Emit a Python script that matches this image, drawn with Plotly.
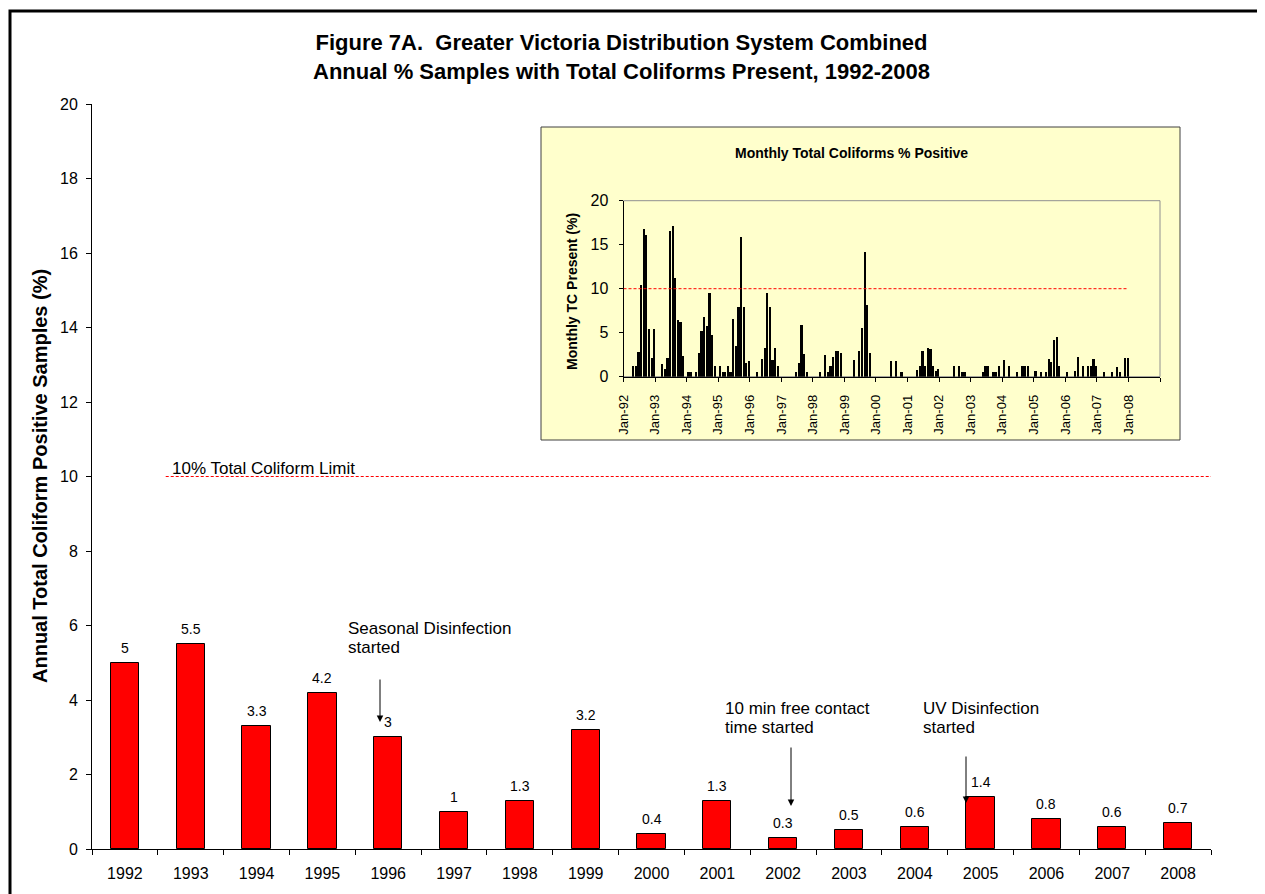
import plotly.graph_objects as go

# ---------------- data ----------------
years = ["1992", "1993", "1994", "1995", "1996", "1997", "1998", "1999", "2000",
         "2001", "2002", "2003", "2004", "2005", "2006", "2007", "2008"]
annual_pct = [5, 5.5, 3.3, 4.2, 3, 1, 1.3, 3.2, 0.4, 1.3, 0.3, 0.5, 0.6, 1.4, 0.8, 0.6, 0.7]
annual_limit = 10

monthly_1992 = [0, 0, 0, 1.3, 1.2, 2.8, 10.5, 16.8, 16.1, 5.5, 2.2, 5.4]
monthly_1993 = [0, 0, 1.5, 0.9, 2.2, 16.6, 17.2, 11.2, 6.5, 6.3, 2.4, 0]
monthly_1994 = [0.6, 0.6, 0, 0.6, 2.7, 5.2, 6.8, 5.8, 9.5, 4.8, 1.2, 0]
monthly_1995 = [1.2, 0.6, 0.6, 1.3, 0.6, 6.6, 3.5, 8.0, 15.9, 8.0, 1.6, 1.8]
monthly_1996 = [0, 0, 0.6, 0, 2.1, 3.3, 9.5, 7.9, 1.9, 3.3, 1.2, 0]
monthly_1997 = [0, 0, 0, 0, 0, 0.6, 1.6, 5.9, 2.6, 0.6, 0, 0]
monthly_1998 = [0, 0, 0.6, 0, 2.5, 0.6, 1.2, 2.3, 2.9, 2.9, 2.7, 0]
monthly_1999 = [0, 0, 0, 1.9, 0, 3.0, 5.6, 14.2, 8.2, 2.7, 0, 0]
monthly_2000 = [0, 0, 0, 0, 0, 1.8, 0, 1.8, 0, 0.6, 0, 0]
monthly_2001 = [0, 0, 0, 0.8, 1.2, 2.9, 1.3, 3.3, 3.2, 1.2, 0.7, 0.9]
monthly_2002 = [0, 0, 0, 0, 0, 1.3, 0, 1.2, 0.6, 0.6, 0, 0]
monthly_2003 = [0, 0, 0, 0, 0.6, 1.2, 1.2, 0, 0.6, 0.6, 1.3, 0]
monthly_2004 = [1.9, 0, 1.2, 0, 0, 0.6, 0, 1.2, 1.2, 1.3, 0, 0]
monthly_2005 = [0.7, 0, 0.6, 0, 0.6, 2.0, 1.7, 4.2, 4.6, 1.2, 0, 0]
monthly_2006 = [0.6, 0, 0, 0.7, 2.3, 0, 1.3, 0, 1.2, 1.2, 2.0, 1.3]
monthly_2007 = [0, 0, 0.6, 0, 0, 0.6, 0, 1.1, 0.6, 0, 2.2, 2.2]
monthly_limit = 10

month_tick_labels = ["Jan-92", "Jan-93", "Jan-94", "Jan-95", "Jan-96", "Jan-97", "Jan-98",
                     "Jan-99", "Jan-00", "Jan-01", "Jan-02", "Jan-03", "Jan-04", "Jan-05",
                     "Jan-06", "Jan-07", "Jan-08"]

monthly_all = (monthly_1992 + monthly_1993 + monthly_1994 + monthly_1995 + monthly_1996 +
               monthly_1997 + monthly_1998 + monthly_1999 + monthly_2000 + monthly_2001 +
               monthly_2002 + monthly_2003 + monthly_2004 + monthly_2005 + monthly_2006 +
               monthly_2007)
month_pos = [i + 0.5 for i in range(len(monthly_all))]

# ---------------- layout geometry (screen pixels; page has an 8px body margin) ----------------
OFF = 8
W, H = 1265, 894
ML, MT = 92 - OFF, 104 - OFF
MR = W - (1211 - OFF)
MB = H - (849 - OFF)
PW = W - ML - MR
PH = H - MT - MB


def px(p):
    return (p - OFF - ML) / PW


def py(p):
    return (H - MB - (p - OFF)) / PH


FONT = "Liberation Sans, Arial, sans-serif"

fig = go.Figure()

fig.add_trace(go.Bar(
    x=years, y=annual_pct, width=0.43,
    marker=dict(color="#FF0000", line=dict(color="black", width=1)),
    xaxis="x", yaxis="y", showlegend=False,
))

fig.add_trace(go.Bar(
    x=month_pos, y=monthly_all, width=0.85,
    marker=dict(color="black", line=dict(width=0)),
    xaxis="x2", yaxis="y2", showlegend=False,
))

shapes = []
# outer frame
shapes.append(dict(type="rect", xref="paper", yref="paper",
                   x0=px(10), x1=px(1259), y0=py(11), y1=py(910),
                   line=dict(color="black", width=3), layer="above"))
# inset box
shapes.append(dict(type="rect", xref="paper", yref="paper",
                   x0=px(541), x1=px(1180), y0=py(127), y1=py(440),
                   fillcolor="#FFFFCC", line=dict(color="#404040", width=1), layer="below"))
# inset plot-area border
shapes.append(dict(type="rect", xref="paper", yref="paper",
                   x0=px(623.5), x1=px(1160), y0=py(200.7), y1=py(376.7),
                   line=dict(color="#909090", width=1), layer="below"))
# limit lines
shapes.append(dict(type="line", xref="x", yref="y", x0=0.62, x1=16.5,
                   y0=annual_limit, y1=annual_limit,
                   line=dict(color="red", width=1, dash="3px,2px")))
shapes.append(dict(type="line", xref="x2", yref="y2", x0=0, x1=192,
                   y0=monthly_limit, y1=monthly_limit,
                   line=dict(color="red", width=1, dash="3px,2px")))

annotations = []


def text_at(txt, x, y, size, xanchor="left", bold=False, angle=0):
    if bold:
        txt = "<b>" + txt + "</b>"
    annotations.append(dict(
        text=txt, xref="paper", yref="paper", x=px(x), y=py(y),
        xanchor=xanchor, yanchor="middle", showarrow=False, textangle=angle,
        font=dict(size=size, color="black", family=FONT)))


text_at("Figure 7A.  Greater Victoria Distribution System Combined<br>"
        "Annual % Samples with Total Coliforms Present, 1992-2008", 621, 57, 22,
        xanchor="center", bold=True)
text_at("Annual Total Coliform Positive Samples (%)", 40, 476, 20, xanchor="center",
        bold=True, angle=-90)
text_at("10% Total Coliform Limit", 170, 469, 17)
text_at("Seasonal Disinfection", 346, 628, 17)
text_at("started", 346, 647, 17)
text_at("10 min free contact", 723, 708, 17)
text_at("time started", 723, 727, 17)
text_at("UV Disinfection", 921, 708, 17)
text_at("started", 921, 727, 17)
text_at("Monthly Total Coliforms % Positive", 851, 153, 14, xanchor="center", bold=True)
text_at("Monthly TC Present (%)", 572, 292, 14, xanchor="center", bold=True, angle=-90)

# value labels above the annual bars (category axis: position = category index)
for i, v in enumerate(annual_pct):
    annotations.append(dict(
        text=str(v), xref="x", yref="y", x=i, y=v, xanchor="center", yanchor="bottom",
        yshift=5, showarrow=False, font=dict(size=14, color="black", family=FONT)))

for ax_px, tail, tip in [(380, 678, 722), (791, 746, 806), (966, 755, 803)]:
    annotations.append(dict(
        text="", xref="paper", yref="paper", x=px(ax_px), y=py(tip),
        ax=0, ay=-(tip - tail), showarrow=True, arrowhead=2, arrowsize=1.3,
        arrowwidth=1, arrowcolor="black"))

fig.update_layout(
    template="none",
    width=W, height=H,
    margin=dict(l=ML, r=MR, t=MT, b=MB, pad=0),
    paper_bgcolor="white",
    plot_bgcolor="rgba(0,0,0,0)",
    font=dict(family=FONT, color="black"),
    showlegend=False,
    shapes=shapes,
    annotations=annotations,
    xaxis=dict(domain=[0, 1], anchor="y", type="category", showline=True,
               linecolor="black", linewidth=1, ticks="outside", tickson="boundaries",
               ticklen=5, tickcolor="black", showgrid=False, zeroline=False,
               tickfont=dict(size=16, family=FONT, color="black"),
               ticklabelstandoff=10, range=[-0.5, 16.5], automargin=False),
    yaxis=dict(domain=[0, 1], anchor="x", range=[0, 20], dtick=2, showline=True,
               linecolor="black", linewidth=1, ticks="outside", ticklen=5,
               tickcolor="black", showgrid=False, zeroline=False,
               tickfont=dict(size=16, family=FONT, color="black"),
               ticklabelstandoff=5, automargin=False),
    xaxis2=dict(domain=[px(623.5), px(1160)], anchor="y2", range=[0, 204],
                tickmode="array", tickvals=[12 * i for i in range(17)] + [204],
                ticktext=month_tick_labels + [""], tickangle=-90,
                showline=True, linecolor="black", linewidth=1, ticks="outside",
                ticklen=4, tickcolor="black", showgrid=False, zeroline=False,
                tickfont=dict(size=13, family=FONT, color="black"),
                ticklabelstandoff=8, automargin=False),
    yaxis2=dict(domain=[py(376.7), py(200.7)], anchor="x2", range=[0, 20], dtick=5,
                showline=True, linecolor="black", linewidth=1, ticks="outside",
                ticklen=4, tickcolor="black", showgrid=False, zeroline=False,
                tickfont=dict(size=16, family=FONT, color="black"),
                ticklabelstandoff=7, automargin=False),
    bargap=0,
)

fig.write_html("out.html")
